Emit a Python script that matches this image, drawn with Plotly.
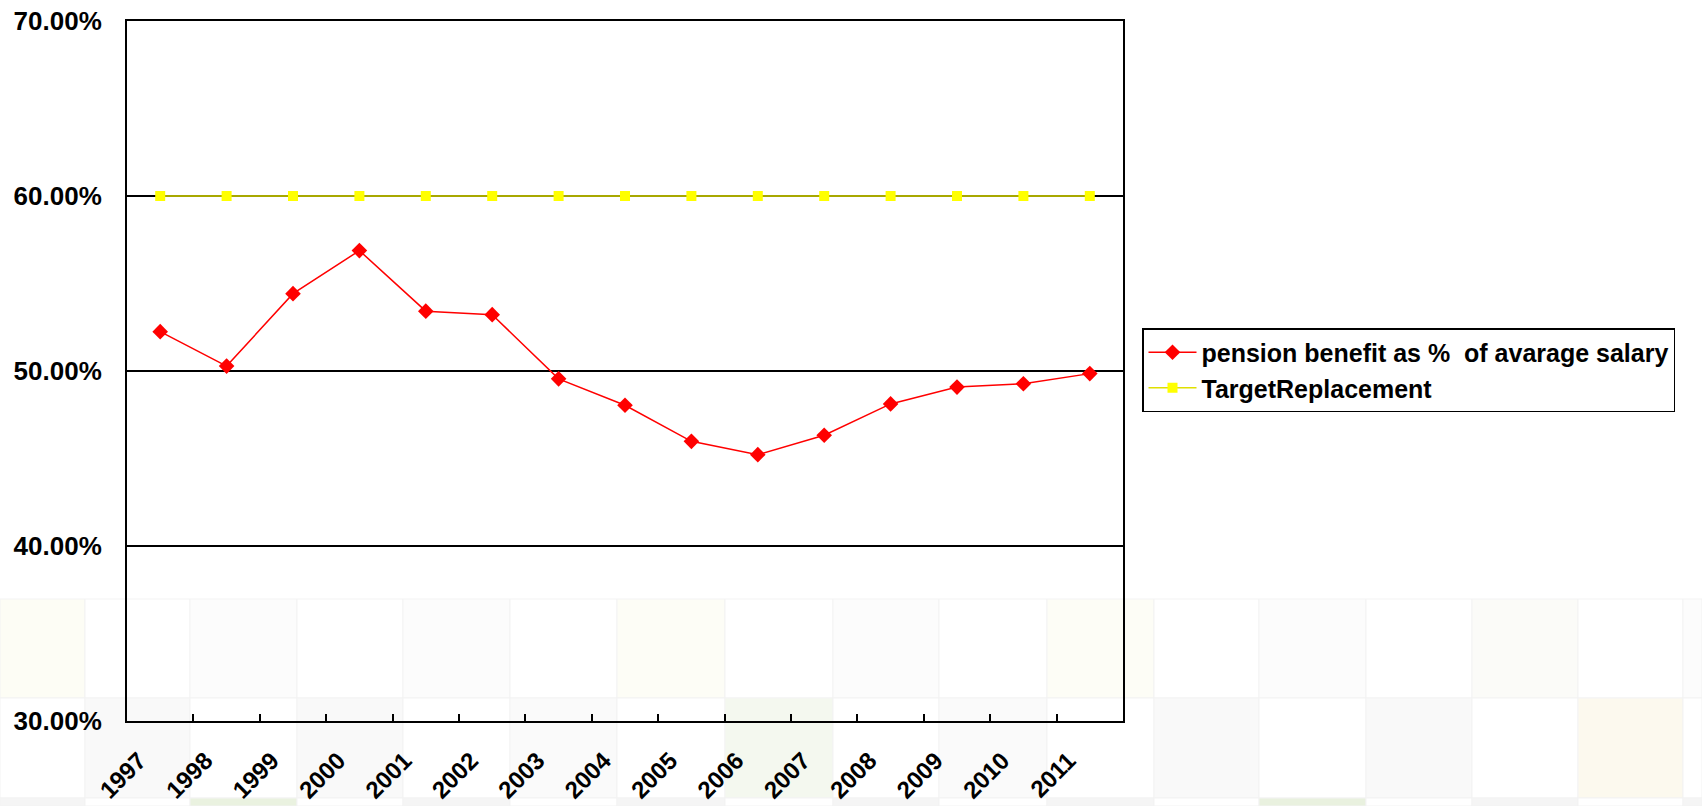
import plotly.graph_objects as go

# Yearly series
years = ["1997", "1998", "1999", "2000", "2001", "2002", "2003", "2004",
         "2005", "2006", "2007", "2008", "2009", "2010", "2011"]
pension_ratio = [0.5225, 0.5028, 0.5442, 0.5688, 0.5342, 0.5322, 0.4955, 0.4804,
                 0.4598, 0.4522, 0.4633, 0.4812, 0.4908, 0.4927, 0.4985]
target_ratio = [0.60] * len(years)

y_ticks = [0.30, 0.40, 0.50, 0.60, 0.70]

FONT = "Liberation Sans, Arial, sans-serif"
W, H = 1702, 806
M_L, M_R, M_T, M_B = 127, 579, 21, 85

# Faint checkered backdrop in the lower band of the page (pixel edges)
TILE_COLS = [0, 85, 190, 297, 403, 510, 617, 725, 833, 939, 1047,
             1154, 1259, 1366, 1472, 1578, 1683, 1702]
TILE_ROWS = [599, 698, 798, 806]
TILE_FILL = {
    0: {0: "#fdfdf5", 2: "#fcfcfc", 4: "#fcfcfc", 6: "#fdfdf6", 8: "#fcfcfc",
        10: "#fdfdf6", 12: "#fcfcfc", 14: "#fbfbf8", 16: "#fcfcfc"},
    1: {1: "#f9f9f9", 3: "#f9f9f9", 5: "#fafafa", 7: "#f4f8ef", 9: "#fafafa",
        11: "#f9f9f9", 13: "#f9f9f9", 15: "#fcf9ee"},
    2: {0: "#f5f5f5", 2: "#eaf2e0", 4: "#f5f5f5", 6: "#f5f5f5", 8: "#f5f5f5",
        10: "#f5f5f5", 12: "#e9f1df", 14: "#f5f5f5", 16: "#f5f5f5"},
}

pw = W - M_L - M_R
ph = H - M_T - M_B


def to_paper_x(px):
    return (px - M_L) / pw


def to_paper_y(py):
    return (H - M_B - py) / ph


tiles = []
for r in range(len(TILE_ROWS) - 1):
    for c in range(len(TILE_COLS) - 1):
        tiles.append(dict(
            type="rect", xref="paper", yref="paper", layer="below",
            x0=to_paper_x(TILE_COLS[c]), x1=to_paper_x(TILE_COLS[c + 1]),
            y0=to_paper_y(TILE_ROWS[r + 1]), y1=to_paper_y(TILE_ROWS[r]),
            fillcolor=TILE_FILL.get(r, {}).get(c, "#ffffff"),
            line=dict(color="#f3f3f3", width=1),
        ))

fig = go.Figure()

fig.add_trace(go.Scatter(
    x=years, y=pension_ratio,
    name="<b>pension benefit as %  of avarage salary</b>",
    mode="lines+markers",
    line=dict(color="#ff0000", width=1.5),
    marker=dict(symbol="diamond", size=12, color="#ff0000"),
))

fig.add_trace(go.Scatter(
    x=years, y=target_ratio,
    name="<b>TargetReplacement</b>",
    mode="lines+markers",
    line=dict(color="#e0e000", width=1.5),
    marker=dict(symbol="square", size=10, color="#ffff00"),
))

fig.update_layout(
    width=W, height=H,
    margin=dict(l=M_L, r=M_R, t=M_T, b=M_B, autoexpand=False),
    paper_bgcolor="white",
    plot_bgcolor="rgba(0,0,0,0)",
    font=dict(family=FONT, color="black"),
    shapes=tiles,
    showlegend=True,
    legend=dict(
        x=to_paper_x(1142), y=to_paper_y(328), xanchor="left", yanchor="top",
        xref="paper", yref="paper",
        bgcolor="white", bordercolor="black", borderwidth=1.5,
        font=dict(size=25, family=FONT, color="black"),
        itemwidth=48,
    ),
    xaxis=dict(
        type="category",
        range=[-0.5, len(years) - 0.5],
        automargin=False,
        tickson="boundaries",
        ticks="inside", ticklen=7, tickwidth=1.5, tickcolor="black",
        tickangle=-45,
        tickfont=dict(size=24, family=FONT, color="black"),
        tickvals=years,
        ticktext=[f"<b>{y}</b>" for y in years],
        showline=True, linecolor="black", linewidth=2, mirror=True,
        showgrid=False, zeroline=False,
        ticklabelstandoff=14, ticklabelshift=-21,
    ),
    yaxis=dict(
        range=[0.30, 0.70],
        automargin=False,
        tickvals=y_ticks,
        ticktext=[f"<b>{v * 100:.2f}%</b>" for v in y_ticks],
        tickfont=dict(size=26, family=FONT, color="black"),
        ticks="", ticklabelstandoff=18,
        showline=True, linecolor="black", linewidth=2, mirror=True,
        showgrid=True, gridcolor="black", gridwidth=1.5,
        zeroline=False,
    ),
)

fig.write_html("out.html")
